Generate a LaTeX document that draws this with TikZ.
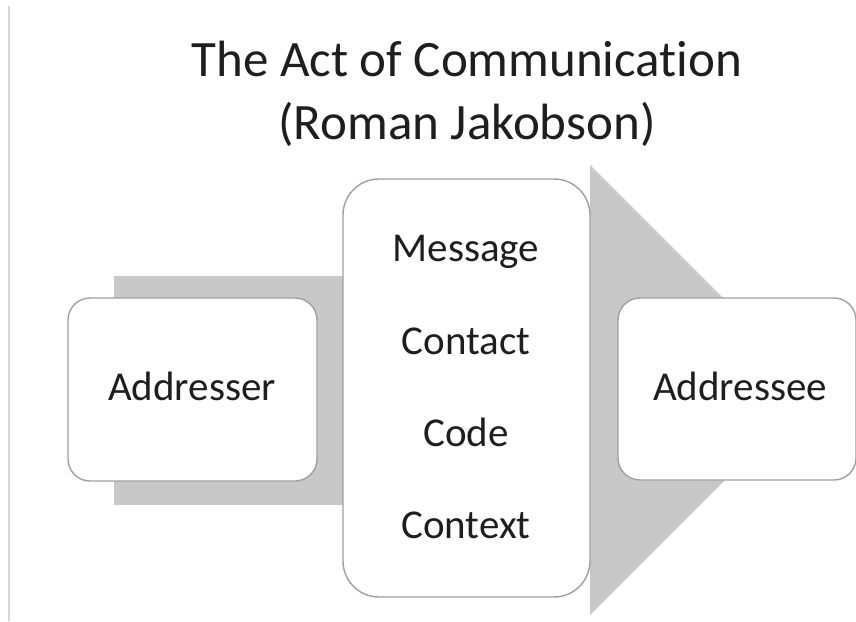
\documentclass[tikz,border=0pt]{standalone}
\usepackage{fontspec}
\setmainfont{Carlito}[Ligatures=NoCommon]
\usepackage{tikz}
\usepackage{xcolor}
\definecolor{arrowgray}{RGB}{200,200,200}
\definecolor{boxline}{RGB}{160,160,160}
\definecolor{textgray}{RGB}{30,30,30}
\definecolor{edgeblue}{RGB}{205,218,230}

\begin{document}
\begin{tikzpicture}[x=1pt, y=-1pt,
		card/.style={fill=white, draw=boxline, line width=1.4pt, rounded corners=22pt, inner sep=0pt},
		word/.style={text=textgray, anchor=base, font=\fontsize{41}{49}\selectfont},
		headline/.style={text=textgray, anchor=base, font=\fontsize{51}{60}\selectfont}]
			\useasboundingbox (0,0) rectangle (856,621);
			\fill[color=white] (0,0) rectangle (856,621);
			\draw[color=edgeblue, line width=2pt] (9,6) -- (9,621);

			% title
			\node[headline] (title) at (467,76) {The Act of Communication};
			\node[headline] (author) at (467,139) {(Roman Jakobson)};

			% grey arrows behind the cards
			\fill[color=arrowgray] (114,276) rectangle (360,505);
			\fill[color=arrowgray] (590,165) -- (815,390) -- (590,615) -- cycle;

			% cards
			\node[card, minimum width=249pt, minimum height=183pt] (sender) at (192.5,389.5) {};
			\node[card, minimum width=247pt, minimum height=418pt, rounded corners=36pt] (channel) at (466.5,388) {};
			\node[card, minimum width=238pt, minimum height=182pt] (receiver) at (737,389) {};

			\node[word] (addresser) at (192,400) {Addresser};
			\node[word] (addressee) at (740,400) {Addressee};
			\node[word] (message) at (466,261) {Message};
			\node[word] (contact) at (466,354) {Contact};
			\node[word] (code) at (466,446) {Code};
			\node[word] (context) at (466,538) {Context};
		\end{tikzpicture}
\end{document}
